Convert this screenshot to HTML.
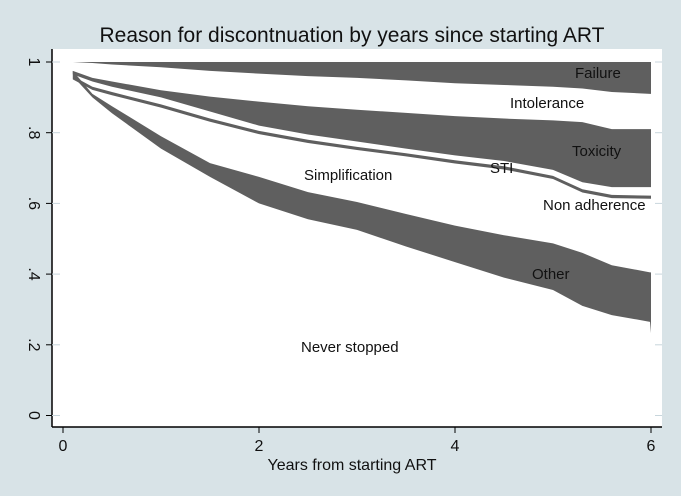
<!DOCTYPE html>
<html><head><meta charset="utf-8"><style>
html,body{margin:0;padding:0;background:#d8e3e7;}
svg{display:block;font-family:"Liberation Sans",Arial,sans-serif;}
</style></head><body>
<svg width="681" height="496" viewBox="0 0 681 496">
<rect x="0" y="0" width="681" height="496" fill="#d8e3e7"/>
<rect x="52" y="49" width="610" height="378" fill="#ffffff"/>
<text x="352" y="42" text-anchor="middle" font-size="21" fill="#111">Reason for discontnuation by years since starting ART</text>
<g id="bands"></g>
<g id="axes"></g>
<g font-size="15" fill="#111">
<text x="575" y="78">Failure</text>
<text x="510" y="108">Intolerance</text>
<text x="572" y="156">Toxicity</text>
<text x="490" y="173">STI</text>
<text x="543" y="210">Non adherence</text>
<text x="304" y="180">Simplification</text>
<text x="532" y="279">Other</text>
<text x="301" y="352">Never stopped</text>
</g>
<text x="352" y="470" text-anchor="middle" font-size="16" fill="#111">Years from starting ART</text>
</svg>
<script>
const years = [0.1,0.3,0.5,1,1.5,2,2.5,3,3.5,4,4.5,5,5.3,5.6,5.99,6];
const failureUpper = [1,1,1,1,1,1,1,1,1,1,1,1,1,1,1,1];
const failureLower = [1,0.997,0.993,0.985,0.975,0.967,0.96,0.955,0.948,0.94,0.935,0.93,0.925,0.915,0.91,0.91];
const toxicityUpper = [0.975,0.955,0.945,0.92,0.902,0.888,0.875,0.865,0.856,0.847,0.84,0.835,0.83,0.81,0.81,0.81];
const toxicityLower = [0.965,0.945,0.93,0.9,0.86,0.82,0.795,0.775,0.755,0.736,0.72,0.695,0.66,0.646,0.646,0.646];
const stiUpper = [0.96,0.93,0.915,0.88,0.84,0.805,0.78,0.76,0.742,0.722,0.705,0.678,0.64,0.624,0.622,0.622];
const stiLower = [0.951,0.921,0.906,0.871,0.831,0.796,0.771,0.751,0.733,0.713,0.696,0.669,0.631,0.615,0.613,0.613];
const otherUpper = [0.975,0.91,0.875,0.79,0.714,0.675,0.632,0.604,0.57,0.537,0.51,0.487,0.46,0.425,0.405,0.405];
const otherLower = [0.96,0.9,0.855,0.755,0.675,0.60,0.555,0.525,0.478,0.434,0.39,0.355,0.31,0.284,0.265,0.233];
const xTicks = [0,2,4,6];
const yTicks = [0,0.2,0.4,0.6,0.8,1];
const yTickLabels = ["0",".2",".4",".6",".8","1"];

const NS="http://www.w3.org/2000/svg";
function xs(v){return 63+v*98;}
function ys(v){return 415.5-v*353.5;}
function band(up,lo,name){
  let d="M"+xs(years[0])+","+ys(up[0]);
  for(let i=1;i<years.length;i++){d+="L"+xs(years[i])+","+ys(up[i]);}
  for(let i=years.length-1;i>=0;i--){d+="L"+xs(years[i])+","+ys(lo[i]);}
  d+="Z";
  const p=document.createElementNS(NS,"path");
  p.setAttribute("d",d);p.setAttribute("fill","#5f5f5f");
  
  
  document.getElementById("bands").appendChild(p);
}
band(failureUpper,failureLower,"band-failure");
band(toxicityUpper,toxicityLower,"band-toxicity");
band(stiUpper,stiLower,"band-sti");
band(otherUpper,otherLower,"band-other");

const ax=document.getElementById("axes");
function el(t,a){const e=document.createElementNS(NS,t);for(const k in a)e.setAttribute(k,a[k]);ax.appendChild(e);return e;}
const yl=el("line",{x1:52,y1:49,x2:52,y2:427,stroke:"#000","stroke-width":1.5});


const xl=el("line",{x1:52,y1:427,x2:662,y2:427,stroke:"#000","stroke-width":1.5});


yTicks.forEach((v,i)=>{
  const t=el("line",{x1:46,y1:ys(v),x2:52,y2:ys(v),stroke:"#000"});
  
  
  const g=el("line",{x1:52,y1:ys(v),x2:60,y2:ys(v),stroke:"#c8d6dc"});
  
  
  const g2=el("line",{x1:655,y1:ys(v),x2:662,y2:ys(v),stroke:"#c8d6dc"});
  
  
  const tx=el("text",{x:0,y:0,"font-size":16,fill:"#111","text-anchor":"middle",transform:"translate(29,"+ys(v)+") rotate(90)"});
  tx.textContent=yTickLabels[i];
  
  
});
xTicks.forEach(v=>{
  const t=el("line",{x1:xs(v),y1:427,x2:xs(v),y2:433,stroke:"#000"});
  
  
  const tx=el("text",{x:xs(v),y:451,"font-size":16,fill:"#111","text-anchor":"middle"});
  tx.textContent=String(v);
  
  
});
</script>
</body></html>
